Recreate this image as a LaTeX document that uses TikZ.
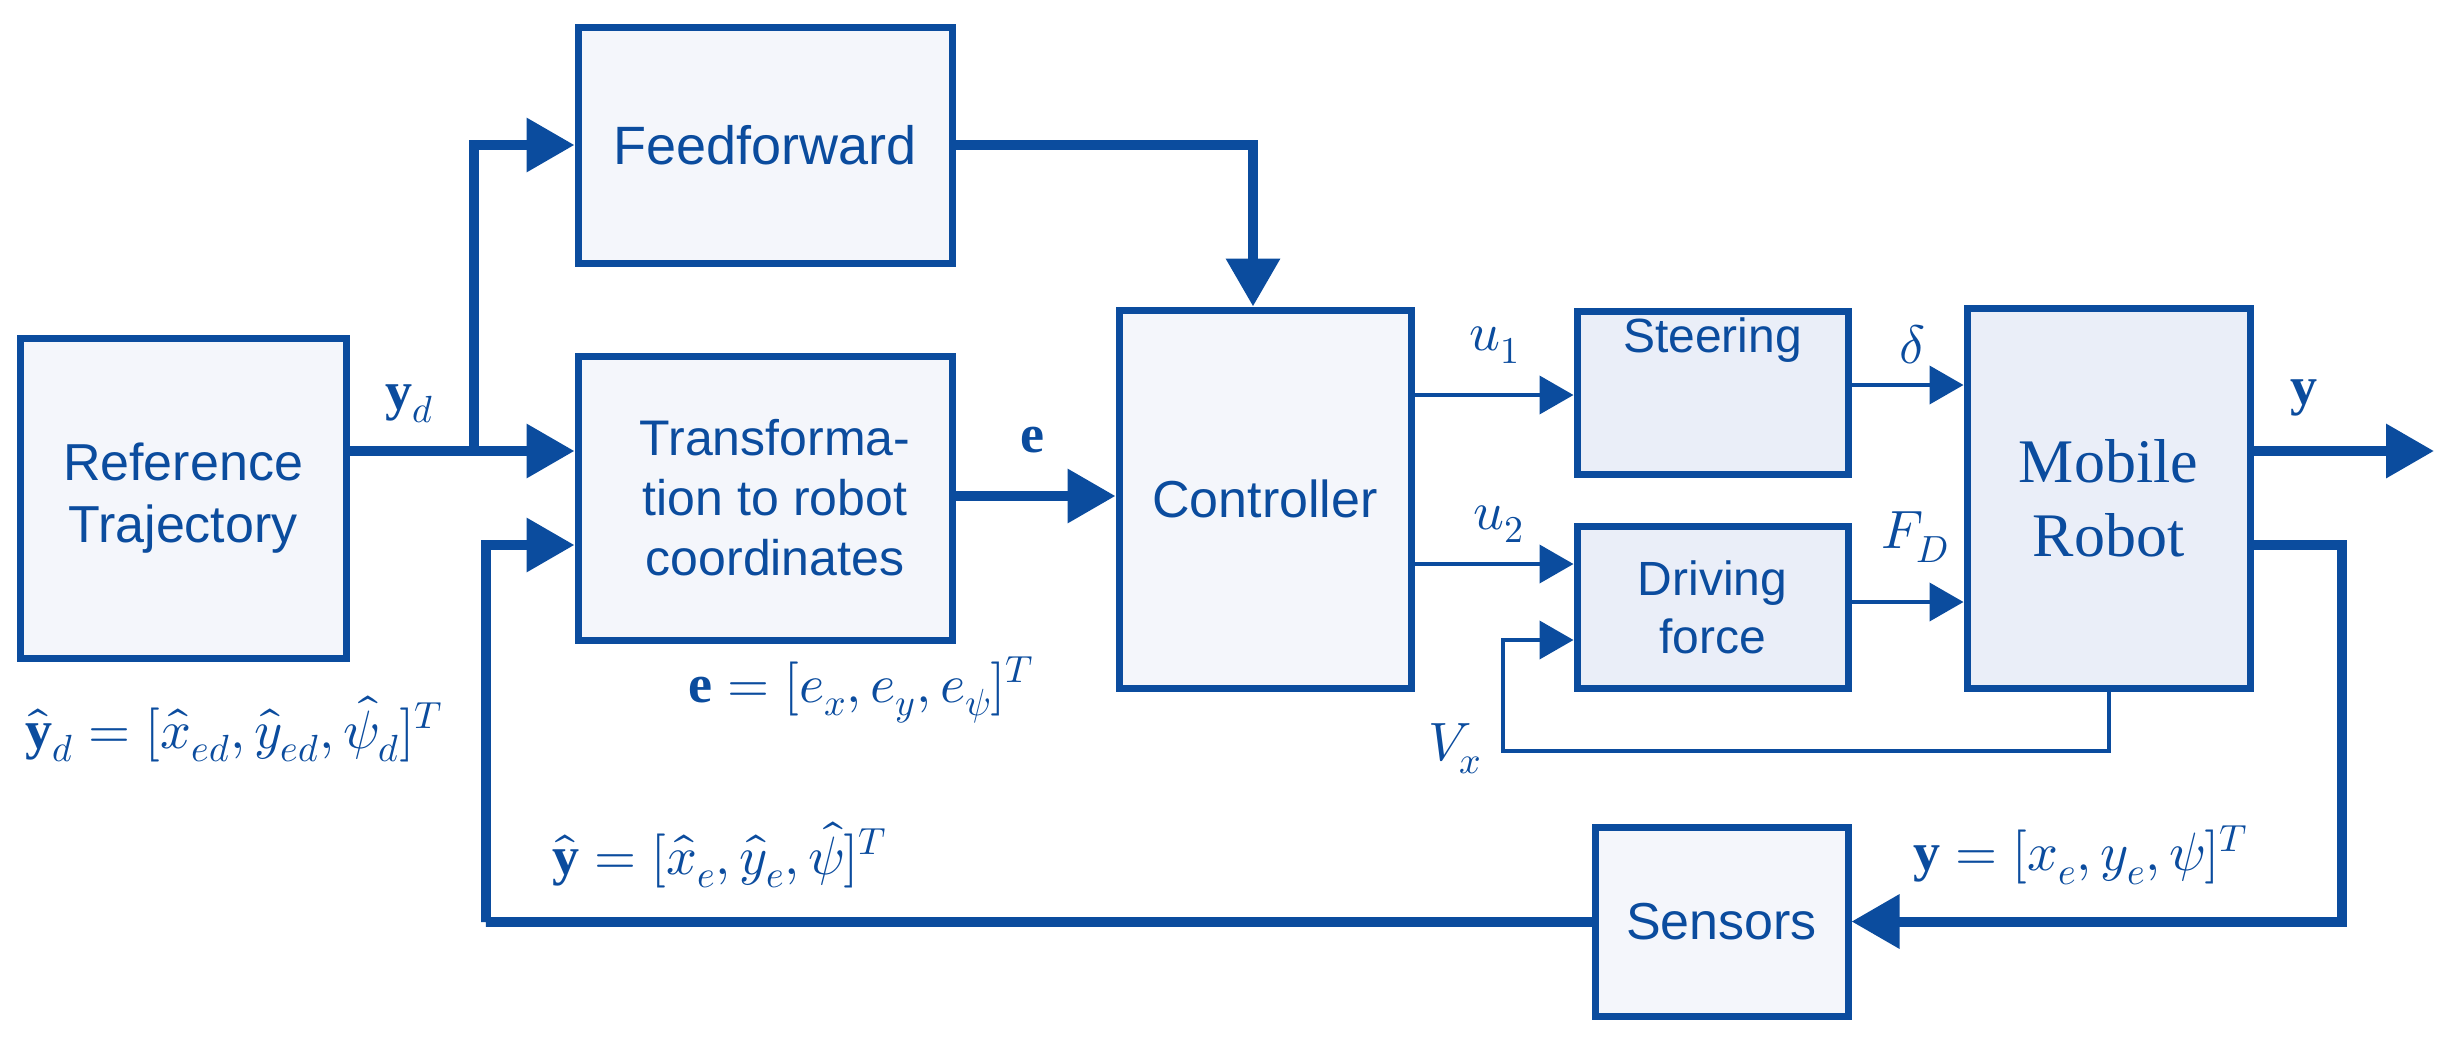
\documentclass[tikz,border=0pt]{standalone}
\usepackage{fontspec}
\usepackage{unicode-math}
\setmainfont{Liberation Serif}
\setsansfont{Liberation Sans}
\setmathfont{Latin Modern Math}
\usetikzlibrary{arrows.meta}
\definecolor{bl}{HTML}{0B4C9E}
\definecolor{fa}{HTML}{F4F6FB}
\definecolor{fb}{HTML}{EAEEF8}
\begin{document}
\begin{tikzpicture}[x=1pt,y=-1pt,
  blk/.style={draw=bl,line width=7pt,fill=fa,inner sep=0pt,align=center,text=bl,font=\fontsize{52}{62}\selectfont\sffamily},
  thick/.style={draw=bl,line width=10pt,-{Triangle[length=48pt,width=52pt]}},
  thin/.style={draw=bl,line width=4pt,-{Triangle[length=34pt,width=38pt]}},
  lab/.style={text=bl,font=\fontsize{54}{62}\selectfont,inner sep=0pt}]
\useasboundingbox (0,0) rectangle (2446,1036);
\node[blk,minimum width=326,minimum height=320] (ref) at (183,498) {Reference\\Trajectory};
\node[blk,minimum width=374,minimum height=236,font=\fontsize{54}{62}\selectfont\sffamily] (ff) at (765,145) {Feedforward};
\node[blk,minimum width=374,minimum height=284,font=\fontsize{50}{60}\selectfont\sffamily] (tr) at (765,498) {\hspace*{20pt}Transforma-\\\hspace*{20pt}tion to robot\\\hspace*{20pt}coordinates};
\node[blk,minimum width=292,minimum height=378] (ctrl) at (1265,499) {Controller};
\node[blk,fill=fb,minimum width=271,minimum height=163,anchor=north,font=\fontsize{48}{56}\selectfont\sffamily] (st) at (1712.5,308) {Steering\\[60pt]};
\node[blk,fill=fb,minimum width=271,minimum height=162,font=\fontsize{48}{58}\selectfont\sffamily] (dr) at (1712.5,607) {Driving\\force};
\node[blk,fill=fb,minimum width=283,minimum height=380,font=\fontsize{62}{74}\selectfont\rmfamily] (mob) at (2108.5,498) {Mobile\\Robot};
\node[blk,minimum width=253,minimum height=189] (sens) at (1721.5,921.5) {Sensors};
\coordinate (br) at (474,451);
\coordinate (fb1) at (486,922);
\coordinate (fr) at (2342,545);
\coordinate (vx) at (1503,751);
\coordinate (out) at (2434,451);
\draw[draw=bl,line width=10pt] (ref.east|-br) -- (br);
\draw[thick] (br) -- (tr.west|-br);
\draw[thick] (br) |- (ff.west);
\draw[thick] (ff.east) -| (ctrl.north-|1253,0);
\draw[thick] (tr.east|-0,496) -- (ctrl.west|-0,496);
\draw[thin] (ctrl.east|-0,395) -- (st.west|-0,395);
\draw[thin] (ctrl.east|-0,564) -- (dr.west|-0,564);
\draw[thin] (st.east|-0,385) -- (mob.west|-0,385);
\draw[thin] (dr.east|-0,602) -- (mob.west|-0,602);
\draw[thin] (mob.south|-0,688) |- (vx) |- (dr.west|-0,640);
\draw[thick] (mob.east|-out) -- (out);
\draw[thick] (mob.east|-fr) -- (fr) |- (sens.east);
\draw[thick] (sens.west) -| (fb1) |- (tr.west|-0,545);
\node[lab] at (410,404) {$\mathbf{y}_d$};
\node[lab] at (1032,440) {$\mathbf{e}$};
\node[lab] at (2304,398) {$\mathbf{y}$};
\node[lab] at (1495,345) {$u_1$};
\node[lab] at (1499,524) {$u_2$};
\node[lab] at (1912,345) {$\delta$};
\node[lab] at (1915,537) {$F_D$};
\node[lab] at (1455,749) {$V_x$};
\node[lab,anchor=west] at (25,729) {$\hat{\mathbf{y}}_d=[\hat{x}_{ed},\hat{y}_{ed},\hat{\psi}_d]^T$};
\node[lab,anchor=west] at (688,690) {$\mathbf{e}=[e_x,e_y,e_\psi]^T$};
\node[lab,anchor=west] at (552,855) {$\hat{\mathbf{y}}=[\hat{x}_e,\hat{y}_e,\hat{\psi}]^T$};
\node[lab,anchor=west] at (1913,855) {$\mathbf{y}=[x_e,y_e,\psi]^T$};
\end{tikzpicture}
\end{document}
